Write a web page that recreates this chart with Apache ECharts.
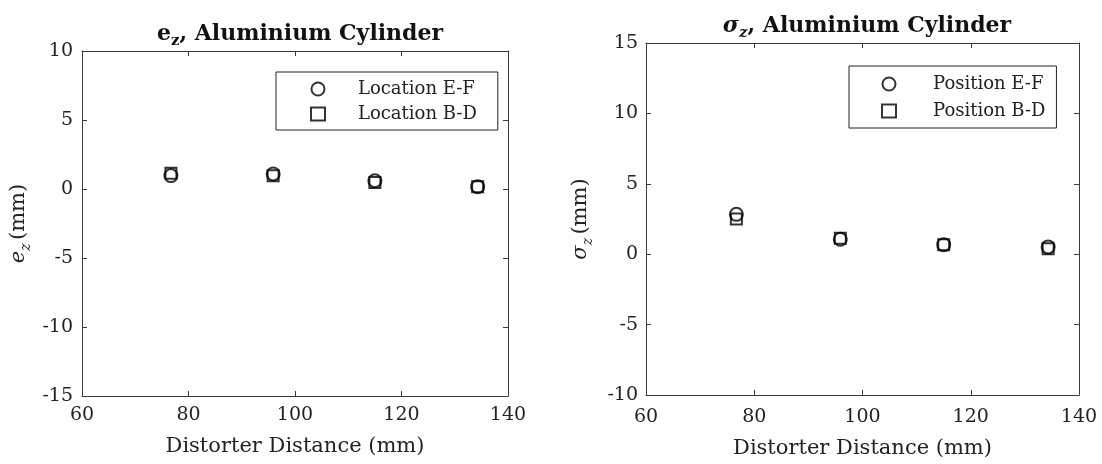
<!DOCTYPE html>
<html>
<head>
<meta charset="utf-8">
<script src="https://cdn.jsdelivr.net/npm/echarts@6/dist/echarts.min.js"></script>
<style>
    html, body { margin: 0; padding: 0; background: #fff; }
    #chart { width: 1102px; height: 464px; }
</style>
</head>
<body>
<div id="chart"></div>
<script>
    // distorter distance (mm), shared by both panels
    const distance = [76.7, 95.9, 115.0, 134.3];
    // e_z (mm)
    const ezLocationEF = [0.97, 1.09, 0.60, 0.17];
    const ezLocationBD = [1.14, 0.96, 0.48, 0.17];
    // sigma_z (mm)
    const szPositionEF = [2.83, 1.06, 0.68, 0.52];
    const szPositionBD = [2.50, 1.13, 0.68, 0.38];

    const xTicks = {min: 60, max: 140, interval: 20};
    const ezTicks = {min: -15, max: 10, interval: 5};
    const szTicks = {min: -10, max: 15, interval: 5};

    const serif = 'DejaVu Serif';
    const axisColor = '#3a3a3a';
    const labelColor = '#222';

    const pairs = (xs, ys) => xs.map((x, i) => [x, ys[i]]);

    const hollow = {color: 'rgba(0,0,0,0)', borderColor: '#000', borderWidth: 2};

    const baseAxis = (ticks, gridIndex, position, extra) => Object.assign({
        type: 'value',
        gridIndex: gridIndex,
        position: position,
        min: ticks.min,
        max: ticks.max,
        interval: ticks.interval,
        axisLine: {show: true, onZero: false, lineStyle: {color: axisColor, width: 1}},
        axisTick: {show: true, inside: true, length: 5, lineStyle: {color: axisColor}},
        splitLine: {show: false},
        axisLabel: {show: false}
    }, extra);

    const tickLabel = margin => ({
        show: true,
        margin: margin,
        fontFamily: serif,
        fontSize: 19,
        color: labelColor
    });

    const nameRich = {
        r: {fontFamily: serif, fontSize: 21, color: labelColor, lineHeight: 28},
        i: {fontFamily: serif, fontStyle: 'italic', fontSize: 21, color: labelColor, lineHeight: 28},
        is: {fontFamily: serif, fontStyle: 'italic', fontSize: 14, color: labelColor, lineHeight: 14, verticalAlign: 'bottom'}
    };

    const titleRich = {
        b: {fontFamily: serif, fontWeight: 'bold', fontSize: 22, color: '#111', lineHeight: 30},
        bs: {fontFamily: serif, fontWeight: 'bold', fontSize: 15, color: '#111', lineHeight: 14, verticalAlign: 'bottom'},
        i: {fontFamily: serif, fontStyle: 'italic', fontSize: 22, color: '#111', lineHeight: 30},
        is: {fontFamily: serif, fontStyle: 'italic', fontSize: 15, color: '#111', lineHeight: 14, verticalAlign: 'bottom'}
    };

    const legendItem = (name, icon) => ({name: name, icon: icon, itemStyle: hollow});

    const chart = echarts.init(document.getElementById('chart'), null, {renderer: 'canvas'});
    chart.setOption({
        backgroundColor: '#fff',
        animation: false,
        title: [{
            text: '{b|e}{bs|z}{b|, Aluminium Cylinder}',
            left: 295,
            top: 14,
            textAlign: 'center',
            textStyle: {rich: titleRich}
        }, {
            text: '{i|σ}{is|z}{b|, Aluminium Cylinder}',
            left: 862,
            top: 6,
            textAlign: 'center',
            textStyle: {rich: titleRich}
        }],
        grid: [
            {left: 82, top: 51, width: 426, height: 345},
            {left: 646, top: 43, width: 433, height: 357}
        ],
        legend: [{
            data: [legendItem('Location E-F', 'circle'), legendItem('Location B-D', 'rect')],
            orient: 'vertical',
            left: 276,
            top: 72,
            padding: [7, 21, 6, 34],
            itemGap: 5,
            itemWidth: 14,
            itemHeight: 13,
            borderColor: '#222',
            borderWidth: 1,
            selectedMode: false,
            textStyle: {fontFamily: serif, fontSize: 18, color: labelColor, lineHeight: 20, padding: [0, 0, 0, 28]}
        }, {
            data: [legendItem('Position E-F', 'circle'), legendItem('Position B-D', 'rect')],
            orient: 'vertical',
            left: 849,
            top: 66,
            padding: [8, 11, 7, 32],
            itemGap: 7,
            itemWidth: 14,
            itemHeight: 13,
            borderColor: '#222',
            borderWidth: 1,
            selectedMode: false,
            textStyle: {fontFamily: serif, fontSize: 18, color: labelColor, lineHeight: 20, padding: [0, 0, 0, 32]}
        }],
        xAxis: [
            baseAxis(xTicks, 0, 'bottom', {
                axisLabel: tickLabel(10),
                name: 'Distorter Distance (mm)',
                nameLocation: 'middle',
                nameGap: 40,
                nameTextStyle: {fontFamily: serif, fontSize: 21, color: labelColor}
            }),
            baseAxis(xTicks, 0, 'top'),
            baseAxis(xTicks, 1, 'bottom', {
                axisLabel: tickLabel(13),
                name: 'Distorter Distance (mm)',
                nameLocation: 'middle',
                nameGap: 43,
                nameTextStyle: {fontFamily: serif, fontSize: 21, color: labelColor}
            }),
            baseAxis(xTicks, 1, 'top')
        ],
        yAxis: [
            baseAxis(ezTicks, 0, 'left', {
                axisLabel: tickLabel(9),
                name: '{i|e}{is|z} {r|(mm)}',
                nameLocation: 'middle',
                nameRotate: 90,
                nameGap: 49,
                nameTextStyle: {rich: nameRich}
            }),
            baseAxis(ezTicks, 0, 'right'),
            baseAxis(szTicks, 1, 'left', {
                axisLabel: tickLabel(8),
                name: '{i|σ}{is|z} {r|(mm)}',
                nameLocation: 'middle',
                nameRotate: 90,
                nameGap: 51,
                nameTextStyle: {rich: nameRich}
            }),
            baseAxis(szTicks, 1, 'right')
        ],
        series: [{
            name: 'Location E-F',
            type: 'scatter',
            xAxisIndex: 0,
            yAxisIndex: 0,
            symbol: 'circle',
            symbolSize: 13,
            itemStyle: hollow,
            data: pairs(distance, ezLocationEF)
        }, {
            name: 'Location B-D',
            type: 'scatter',
            xAxisIndex: 0,
            yAxisIndex: 0,
            symbol: 'rect',
            symbolSize: 11,
            itemStyle: hollow,
            data: pairs(distance, ezLocationBD)
        }, {
            name: 'Position E-F',
            type: 'scatter',
            xAxisIndex: 2,
            yAxisIndex: 2,
            symbol: 'circle',
            symbolSize: 13,
            itemStyle: hollow,
            data: pairs(distance, szPositionEF)
        }, {
            name: 'Position B-D',
            type: 'scatter',
            xAxisIndex: 2,
            yAxisIndex: 2,
            symbol: 'rect',
            symbolSize: 11,
            itemStyle: hollow,
            data: pairs(distance, szPositionBD)
        }]
    });
</script>
</body>
</html>
